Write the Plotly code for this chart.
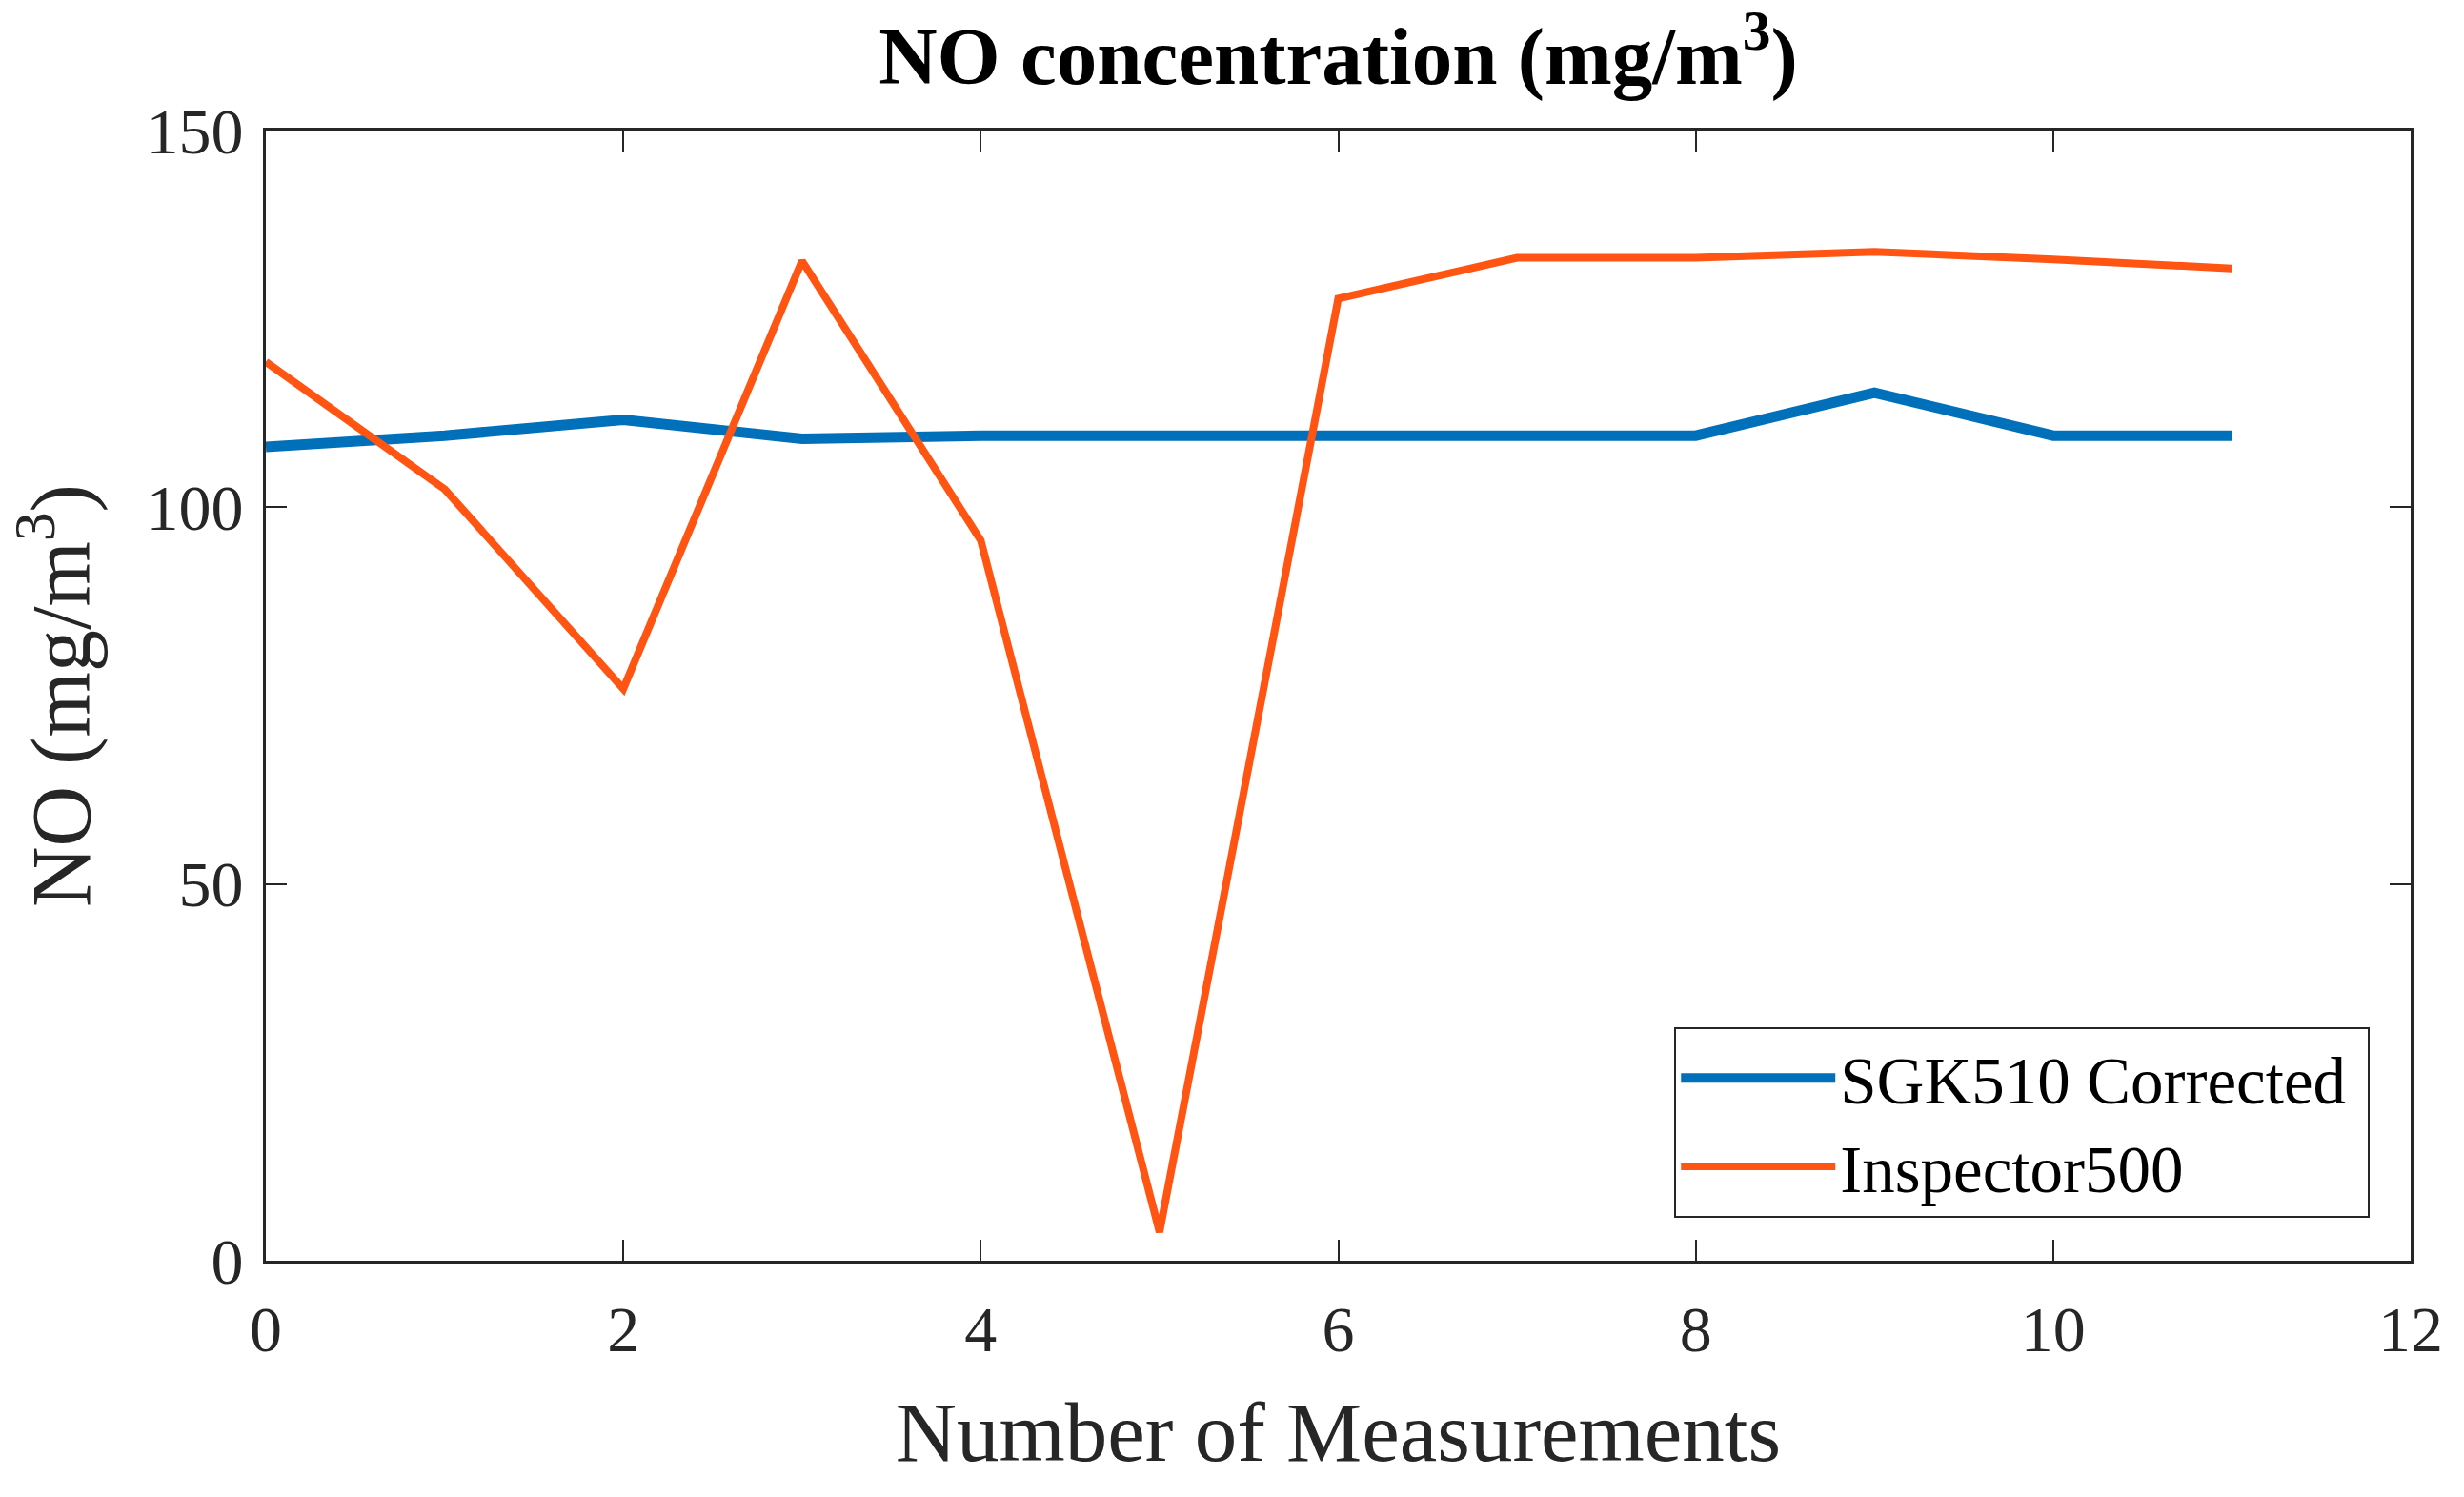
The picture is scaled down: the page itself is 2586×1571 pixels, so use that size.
import plotly.graph_objects as go

measurements = list(range(12))
sgk510_corrected = [108.0, 109.5, 111.6, 109.1, 109.5, 109.5, 109.5, 109.5, 109.5, 115.2, 109.5, 109.5]
inspector500 = [119.3, 102.4, 75.9, 132.7, 95.6, 3.8, 127.7, 133.1, 133.1, 133.9, 132.9, 131.7]

x_ticks = [0, 2, 4, 6, 8, 10, 12]
y_ticks = [0, 50, 100, 150]

FONT = "Liberation Serif"
AXC = "#262626"

fig = go.Figure()
fig.add_trace(go.Scatter(x=measurements, y=sgk510_corrected, mode="lines",
                         name="SGK510 Corrected\u00a0",
                         line=dict(color="#0070BA", width=11)))
fig.add_trace(go.Scatter(x=measurements, y=inspector500, mode="lines",
                         name="Inspector500",
                         line=dict(color="#FF5412", width=8)))

fig.update_layout(
    width=2586, height=1571,
    paper_bgcolor="white", plot_bgcolor="white",
    margin=dict(l=279, r=56, t=137, b=248),
    font=dict(family=FONT, color=AXC),
    title=dict(text="<b>NO concentration (mg/m<sup>3</sup>)</b>",
               x=0.5 + (279 - 56) / 2 / 2586, xanchor="center",
               y=1 - 58 / 1571, yanchor="middle",
               font=dict(family=FONT, size=85, color="black")),
    showlegend=True,
    legend=dict(x=0.981, y=0.038, xanchor="right", yanchor="bottom",
                bgcolor="white", bordercolor=AXC, borderwidth=2,
                font=dict(family=FONT, size=69, color="black"),
                itemwidth=162, tracegroupgap=0),
)

fig.update_xaxes(
    range=[0, 12], tickvals=x_ticks, ticktext=[str(v) for v in x_ticks],
    ticks="inside", ticklen=22, tickwidth=2, tickcolor=AXC,
    showline=True, linecolor=AXC, linewidth=3, mirror="ticks",
    showgrid=False, zeroline=False, automargin=False,
    tickfont=dict(family=FONT, size=68, color=AXC),
    ticklabelstandoff=10,
    title=dict(text="Number of Measurements", font=dict(family=FONT, size=89, color=AXC),
               standoff=40),
)
fig.update_yaxes(
    range=[0, 150], tickvals=y_ticks, ticktext=[str(v) for v in y_ticks],
    ticks="inside", ticklen=22, tickwidth=2, tickcolor=AXC,
    showline=True, linecolor=AXC, linewidth=3, mirror="ticks",
    showgrid=False, zeroline=False, automargin=False,
    tickfont=dict(family=FONT, size=68, color=AXC),
    ticklabelstandoff=7,
    title=dict(text="NO (mg/m<sup>3</sup>)", font=dict(family=FONT, size=88, color=AXC),
               standoff=30),
)

fig.write_html("out.html", config={"displayModeBar": False},
               post_script="document.body.style.margin='0';")
